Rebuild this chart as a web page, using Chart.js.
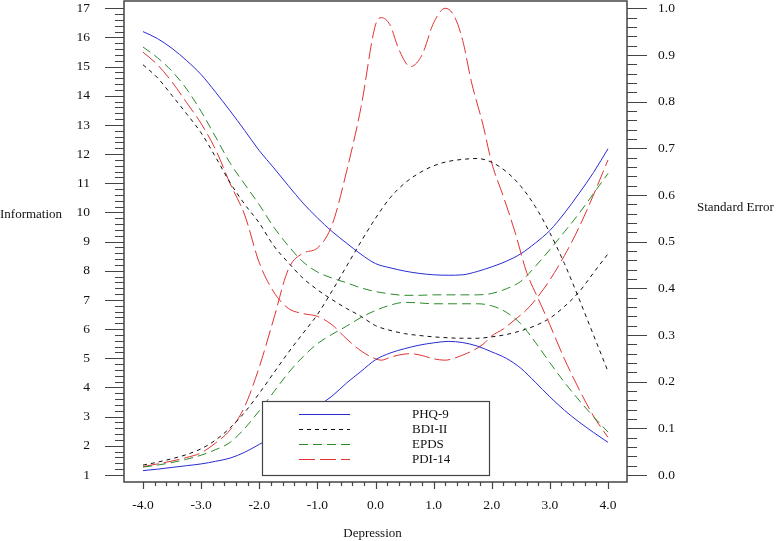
<!DOCTYPE html>
<html>
<head>
<meta charset="utf-8">
<script src="https://cdn.jsdelivr.net/npm/chart.js@4/dist/chart.umd.min.js"></script>
<style>
  html, body { margin: 0; padding: 0; background: #fff; }
</style>
</head>
<body>
<canvas id="chart" width="777" height="541"></canvas>
<script>
// ---- values ----
const theta = [-4, -3.75, -3.5, -3.25, -3, -2.75, -2.5, -2.25, -2, -1.75, -1.5, -1.25, -1, -0.75, -0.5, -0.25,
               0, 0.25, 0.5, 0.75, 1, 1.25, 1.5, 1.75, 2, 2.25, 2.5, 2.75, 3, 3.25, 3.5, 3.75, 4];

const phqInfo = [1.15, 1.20, 1.26, 1.32, 1.38, 1.47, 1.58, 1.78, 2.05, 2.32, 2.62, 2.95, 3.35, 3.70, 4.15, 4.55,
                 4.95, 5.18, 5.33, 5.45, 5.53, 5.58, 5.54, 5.42, 5.22, 5.00, 4.66, 4.18, 3.68, 3.22, 2.82, 2.46, 2.12];
const phqSE = [0.950, 0.935, 0.914, 0.888, 0.858, 0.820, 0.780, 0.738, 0.695, 0.658, 0.620, 0.583, 0.551, 0.522, 0.497, 0.473,
               0.453, 0.444, 0.437, 0.432, 0.429, 0.428, 0.429, 0.436, 0.446, 0.458, 0.474, 0.497, 0.524, 0.561, 0.603, 0.648, 0.699];

const bdiInfo = [1.34, 1.44, 1.56, 1.70, 1.90, 2.20, 2.62, 3.15, 3.80, 4.50, 5.20, 5.85, 6.50, 7.30, 8.15, 9.00,
                 9.80, 10.50, 11.00, 11.35, 11.60, 11.75, 11.82, 11.85, 11.72, 11.40, 10.90, 10.20, 9.30, 8.25, 7.05, 5.80, 4.55];
const bdiSE = [0.879, 0.851, 0.813, 0.774, 0.733, 0.681, 0.626, 0.580, 0.540, 0.491, 0.455, 0.422, 0.397, 0.376, 0.357, 0.340,
               0.320, 0.310, 0.303, 0.299, 0.296, 0.294, 0.293, 0.293, 0.296, 0.301, 0.309, 0.320, 0.336, 0.361, 0.392, 0.433, 0.474];

const epdsInfo = [1.27, 1.34, 1.43, 1.54, 1.68, 1.87, 2.12, 2.60, 3.20, 3.85, 4.50, 5.05, 5.50, 5.82, 6.10, 6.40,
                  6.64, 6.82, 6.92, 6.90, 6.87, 6.87, 6.87, 6.87, 6.80, 6.58, 6.18, 5.55, 4.85, 4.18, 3.57, 3.00, 2.47];
const epdsSE = [0.917, 0.894, 0.865, 0.827, 0.779, 0.724, 0.668, 0.623, 0.579, 0.531, 0.491, 0.457, 0.435, 0.422, 0.412, 0.401,
                0.393, 0.388, 0.385, 0.385, 0.386, 0.386, 0.386, 0.386, 0.389, 0.399, 0.415, 0.447, 0.483, 0.521, 0.560, 0.603, 0.646];

// PDI-14 has two sharp peaks, so it gets a finer grid
const pdiTheta = [-4, -3.75, -3.5, -3.25, -3, -2.75, -2.5, -2.25, -2, -1.75, -1.5, -1.25, -1, -0.75, -0.5, -0.25,
                  0, 0.1, 0.25, 0.4, 0.6, 0.8, 1.0, 1.2, 1.35, 1.5, 1.65, 1.85, 2.0, 2.2, 2.4, 2.6, 2.8, 3.0, 3.25, 3.5, 3.75, 4.0];
const pdiInfo = [1.29, 1.38, 1.48, 1.60, 1.76, 2.10, 2.55, 3.35, 4.70, 6.36, 8.05, 8.60, 8.78, 9.56, 11.39, 13.6,
                 16.43, 16.68, 16.43, 15.6, 15.0, 15.4, 16.5, 17.0, 16.75, 15.9, 14.48, 13.0, 11.7, 10.55, 9.33, 7.95, 7.04, 6.15, 4.98, 3.95, 3.02, 2.29];
const pdiSE = [0.906, 0.879, 0.842, 0.798, 0.753, 0.697, 0.624, 0.557, 0.455, 0.392, 0.357, 0.346, 0.340, 0.322, 0.292, 0.266,
               0.249, 0.246, 0.252, 0.257, 0.260, 0.256, 0.249, 0.246, 0.250, 0.257, 0.265, 0.280, 0.298, 0.313, 0.333, 0.354, 0.383, 0.418, 0.470, 0.530, 0.600, 0.675];

const seriesNames = ['PHQ-9', 'BDI-II', 'EPDS', 'PDI-14'];

// tick labels
const xTickValues = [-4, -3, -2, -1, 0, 1, 2, 3, 4];
const xTickLabels = ['-4.0', '-3.0', '-2.0', '-1.0', '0.0', '1.0', '2.0', '3.0', '4.0'];
const infoTickValues = [1, 2, 3, 4, 5, 6, 7, 8, 9, 10, 11, 12, 13, 14, 15, 16, 17];
const infoTickLabels = ['1', '2', '3', '4', '5', '6', '7', '8', '9', '10', '11', '12', '13', '14', '15', '16', '17'];
const seTickValues = [0, 0.1, 0.2, 0.3, 0.4, 0.5, 0.6, 0.7, 0.8, 0.9, 1.0];
const seTickLabels = ['0.0', '0.1', '0.2', '0.3', '0.4', '0.5', '0.6', '0.7', '0.8', '0.9', '1.0'];

// ---- styling ----
const FONT = 'Liberation Serif, Times New Roman, serif';
const TEXT = '#111';
const AXIS = '#444';
const styles = [
    { color: '#2a2ad4', dash: [] },
    { color: '#111111', dash: [4, 4] },
    { color: '#2a8a2a', dash: [9, 5] },
    { color: '#e03232', dash: [16, 5] }
];

// info axis 1..17 and SE axis 0..1 share the same pixels
const INFO_MIN = 0.76, INFO_MAX = 17.25;

function pts(xs, ys) {
    return xs.map((x, i) => ({ x: x, y: ys[i] }));
}

function makeLine(data, style, axis) {
    return {
        data: data,
        yAxisID: axis,
        borderColor: style.color,
        borderWidth: 1,
        borderDash: style.dash,
        pointRadius: 0,
        fill: false,
        cubicInterpolationMode: 'monotone'
    };
}

const datasets = [
    makeLine(pts(theta, phqInfo), styles[0], 'y'),
    makeLine(pts(theta, bdiInfo), styles[1], 'y'),
    makeLine(pts(theta, epdsInfo), styles[2], 'y'),
    makeLine(pts(pdiTheta, pdiInfo), styles[3], 'y'),
    makeLine(pts(theta, phqSE), styles[0], 'y2'),
    makeLine(pts(theta, bdiSE), styles[1], 'y2'),
    makeLine(pts(theta, epdsSE), styles[2], 'y2'),
    makeLine(pts(pdiTheta, pdiSE), styles[3], 'y2')
];

// frame, minor/major ticks, horizontal axis titles and the boxed legend
const decorations = {
    id: 'decorations',
    afterDatasetsDraw(chart) {
        const ctx = chart.ctx;
        const a = chart.chartArea;
        const sx = chart.scales.x, sy = chart.scales.y, s2 = chart.scales.y2;
        ctx.save();

        // legend box
        const lx = a.left + 138, ly = a.top + 400, lw = 227, lh = 74;
        ctx.fillStyle = '#fff';
        ctx.fillRect(lx, ly, lw, lh);
        ctx.strokeStyle = AXIS;
        ctx.lineWidth = 1.2;
        ctx.setLineDash([]);
        ctx.strokeRect(lx + 0.5, ly + 0.5, lw, lh);
        ctx.font = '13px ' + FONT;
        ctx.textBaseline = 'middle';
        ctx.textAlign = 'left';
        seriesNames.forEach((name, i) => {
            const yy = ly + 13.5 + i * 15;
            ctx.strokeStyle = styles[i].color;
            ctx.lineWidth = 1;
            ctx.setLineDash(styles[i].dash);
            ctx.beginPath();
            ctx.moveTo(lx + 37, yy);
            ctx.lineTo(lx + 88, yy);
            ctx.stroke();
            ctx.fillStyle = TEXT;
            ctx.fillText(name, lx + 150, yy);
        });
        ctx.setLineDash([]);

        // frame
        ctx.strokeStyle = AXIS;
        ctx.lineWidth = 1.5;
        ctx.strokeRect(a.left, a.top, a.right - a.left, a.bottom - a.top);

        // ticks
        ctx.lineWidth = 1.2;
        ctx.beginPath();
        for (let k = 0; k <= 80; k++) {
            const p = Math.round(sy.getPixelForValue(1 + k * 0.2)) + 0.5;
            ctx.moveTo(a.left - (k % 5 === 0 ? 19 : 9), p);
            ctx.lineTo(a.left, p);
        }
        for (let k = 0; k <= 50; k++) {
            const p = Math.round(s2.getPixelForValue(k * 0.02)) + 0.5;
            ctx.moveTo(a.right, p);
            ctx.lineTo(a.right + (k % 5 === 0 ? 20 : 10), p);
        }
        for (let k = 0; k <= 40; k++) {
            const p = Math.round(sx.getPixelForValue(-4 + k * 0.2)) + 0.5;
            ctx.moveTo(p, a.bottom);
            ctx.lineTo(p, a.bottom + (k % 5 === 0 ? 7 : 4));
        }
        ctx.stroke();

        // axis titles (horizontal, as in the original)
        ctx.fillStyle = TEXT;
        ctx.font = '13px ' + FONT;
        ctx.textAlign = 'left';
        ctx.fillText('Information', 0, 215);
        ctx.fillText('Standard Error', 697, 208);
        ctx.textAlign = 'center';
        ctx.fillText('Depression', 372.5, 534);
        ctx.restore();
    }
};

function fixedTicks(values) {
    return function (scale) {
        scale.ticks = values.map(v => ({ value: v }));
    };
}

// fixed axis sizes; drop the label-overflow padding so the plot box fills the frame
function fitTo(size) {
    return function (scale) {
        if (scale.isHorizontal()) scale.height = size; else scale.width = size;
        scale.paddingTop = 0;
        scale.paddingBottom = 0;
        scale.paddingLeft = 0;
        scale.paddingRight = 0;
    };
}

const tickFont = { family: FONT, size: 13.5 };
const hiddenGrid = (len) => ({
    display: true,
    drawOnChartArea: false,
    drawTicks: true,
    tickLength: len,
    tickColor: 'rgba(0,0,0,0)',
    color: 'rgba(0,0,0,0)'
});

new Chart(document.getElementById('chart'), {
    type: 'line',
    data: { datasets: datasets },
    options: {
        responsive: false,
        animation: false,
        layout: { padding: { top: 1, left: 0, right: 0, bottom: 0 } },
        plugins: {
            legend: { display: false },
            tooltip: { enabled: false }
        },
        scales: {
            x: {
                type: 'linear',
                position: 'bottom',
                min: -4.327,
                max: 4.327,
                afterBuildTicks: fixedTicks(xTickValues),
                afterFit: fitTo(59),
                ticks: {
                    callback: (v, i) => xTickLabels[i],
                    font: tickFont,
                    color: TEXT,
                    padding: 8,
                    maxRotation: 0,
                    autoSkip: false
                },
                grid: hiddenGrid(7),
                border: { display: false }
            },
            y: {
                type: 'linear',
                position: 'left',
                min: INFO_MIN,
                max: INFO_MAX,
                afterBuildTicks: fixedTicks(infoTickValues),
                afterFit: fitTo(124),
                ticks: {
                    callback: (v, i) => infoTickLabels[i],
                    font: tickFont,
                    color: TEXT,
                    padding: 15,
                    autoSkip: false
                },
                grid: hiddenGrid(19),
                border: { display: false }
            },
            y2: {
                type: 'linear',
                position: 'right',
                min: (INFO_MIN - 1) / 16,
                max: (INFO_MAX - 1) / 16,
                afterBuildTicks: fixedTicks(seTickValues),
                afterFit: fitTo(150),
                ticks: {
                    callback: (v, i) => seTickLabels[i],
                    font: tickFont,
                    color: TEXT,
                    padding: 11,
                    autoSkip: false
                },
                grid: hiddenGrid(20),
                border: { display: false }
            }
        }
    },
    plugins: [decorations]
});
</script>
</body>
</html>
